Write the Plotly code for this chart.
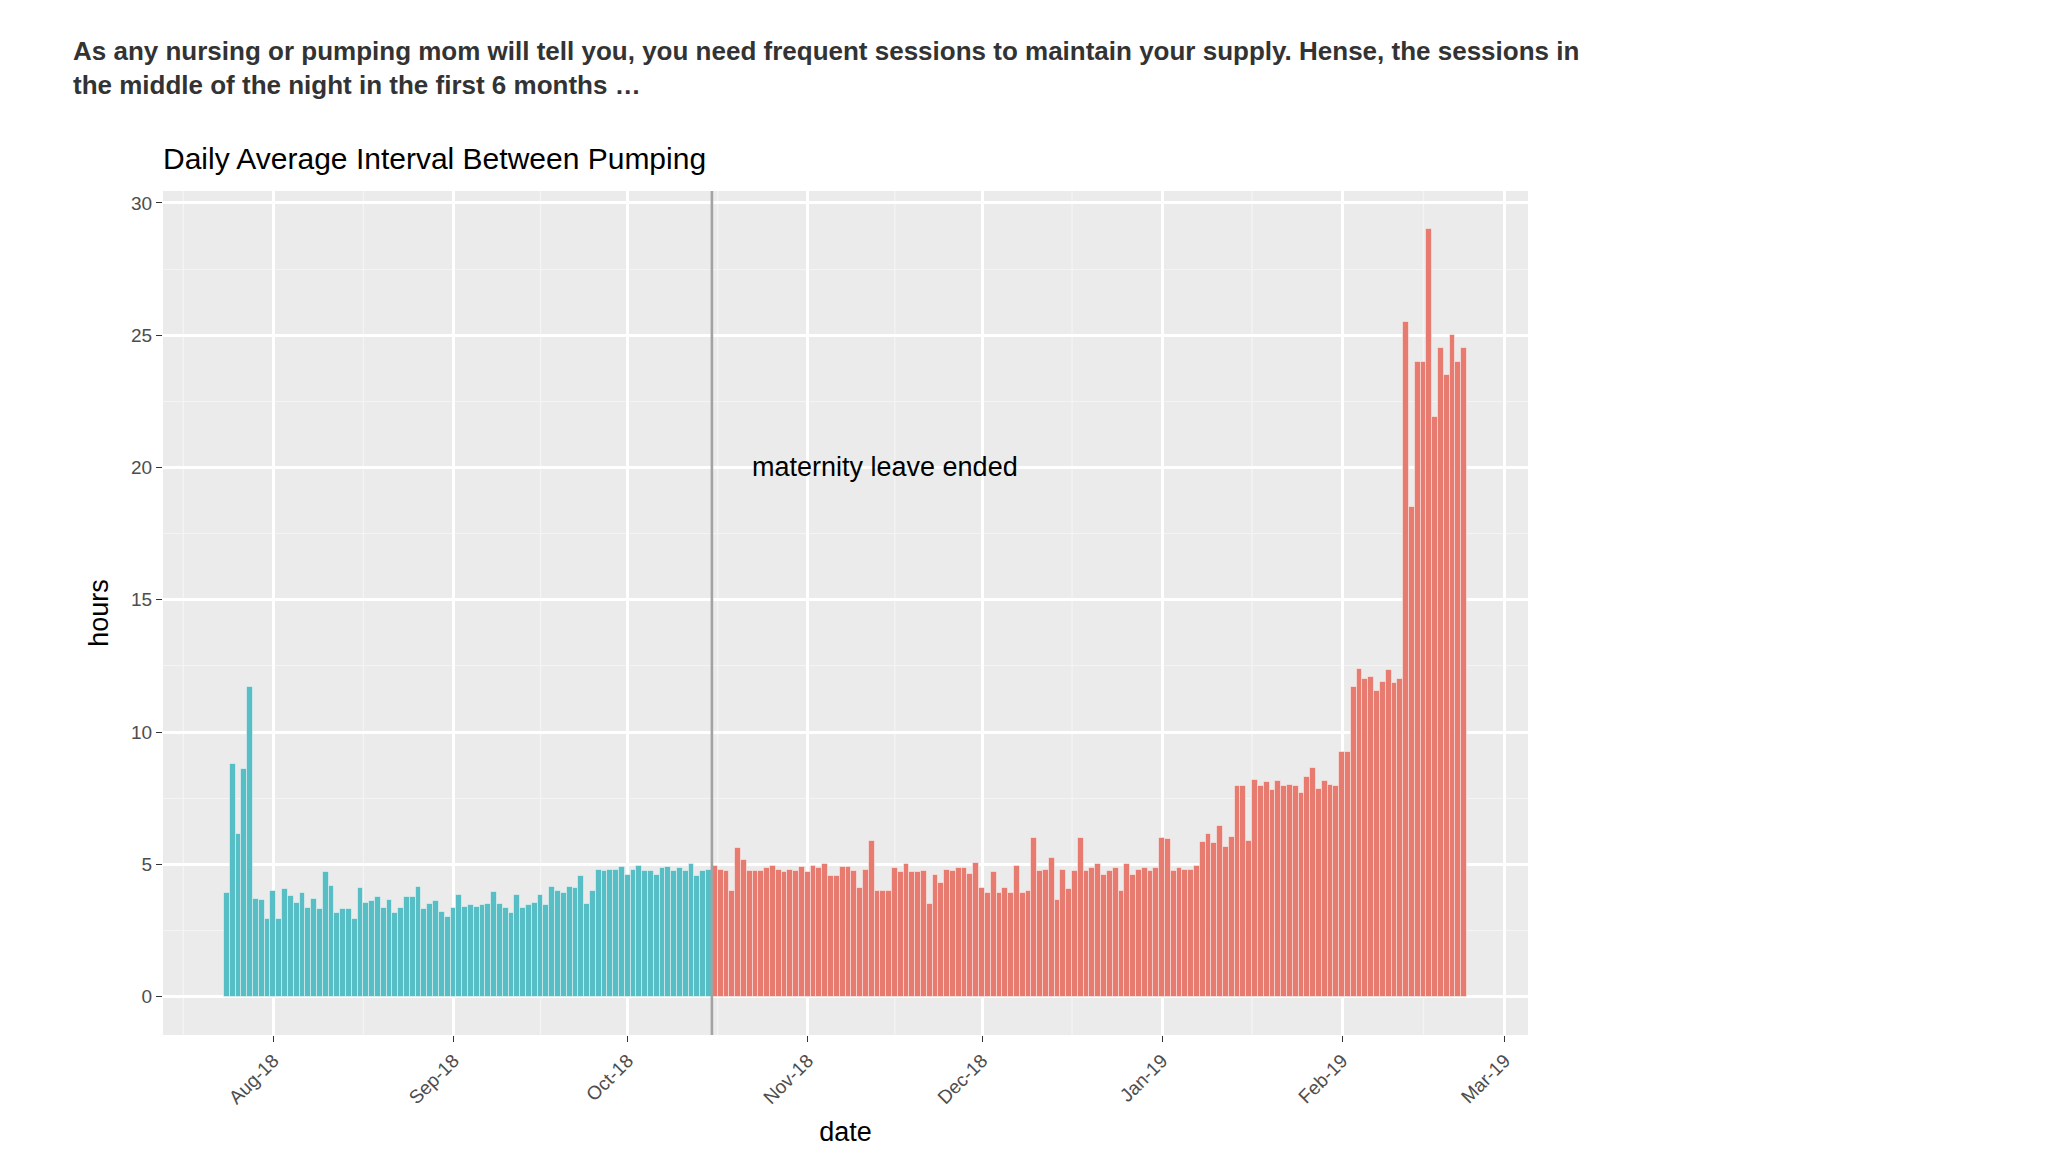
import datetime as dt

import plotly.graph_objects as go

START_DATE = dt.date(2018, 7, 24)
LEAVE_END = "2018-10-15 12:00"

# daily average interval (hours), on maternity leave
leave_hours = [
    3.9, 8.8, 6.15, 8.6, 11.7, 3.7, 3.65, 2.95, 4.0, 2.95, 4.05, 3.8, 3.55, 3.9,
    3.35, 3.7, 3.3, 4.7, 4.2, 3.15, 3.3, 3.3, 2.95, 4.1, 3.55, 3.6, 3.75, 3.35,
    3.65, 3.15, 3.35, 3.75, 3.75, 4.15, 3.3, 3.5, 3.6, 3.2, 3.0, 3.35, 3.85, 3.4,
    3.45, 3.4, 3.45, 3.5, 3.95, 3.5, 3.35, 3.15, 3.85, 3.35, 3.45, 3.55, 3.85,
    3.45, 4.15, 4.0, 3.9, 4.15, 4.1, 4.55, 3.5, 4.0, 4.8, 4.75, 4.8, 4.8, 4.9,
    4.6, 4.8, 4.95, 4.75, 4.75, 4.6, 4.85, 4.9, 4.75, 4.85, 4.75, 5.0, 4.55,
    4.75, 4.8,
]

# daily average interval (hours), back at work
work_hours = [
    4.95, 4.8, 4.75, 4.0, 5.6, 5.15, 4.75, 4.75, 4.75, 4.85, 4.95, 4.8, 4.7, 4.8,
    4.75, 4.9, 4.7, 4.95, 4.85, 5.0, 4.55, 4.55, 4.9, 4.9, 4.75, 4.1, 4.8, 5.9,
    4.0, 4.0, 4.0, 4.85, 4.7, 5.0, 4.7, 4.7, 4.75, 3.5, 4.6, 4.3, 4.8, 4.75,
    4.85, 4.85, 4.65, 5.05, 4.1, 3.9, 4.7, 3.9, 4.1, 3.9, 4.95, 3.9, 4.0, 6.0,
    4.75, 4.8, 5.25, 3.65, 4.8, 4.05, 4.75, 6.0, 4.75, 4.85, 5.0, 4.6, 4.75,
    4.85, 4.0, 5.0, 4.6, 4.8, 4.85, 4.75, 4.85, 6.0, 5.95, 4.75, 4.85, 4.8, 4.8,
    4.95, 5.85, 6.15, 5.8, 6.45, 5.65, 6.05, 7.95, 7.95, 5.9, 8.2, 7.95, 8.1,
    7.8, 8.15, 7.95, 8.0, 7.95, 7.7, 8.3, 8.65, 7.85, 8.15, 8.0, 7.95, 9.25,
    9.25, 11.7, 12.4, 12.0, 12.07, 11.55, 11.9, 12.35, 11.87, 12.0, 25.5, 18.5,
    24.0, 24.0, 29.0, 21.9, 24.5, 23.5, 25.0, 24.0, 24.5,
]

leave_dates = [START_DATE + dt.timedelta(days=i) for i in range(len(leave_hours))]
work_dates = [
    START_DATE + dt.timedelta(days=len(leave_hours) + i) for i in range(len(work_hours))
]

DAY_MS = 86400000
BAR_LINE = dict(color="rgba(255,255,255,0.45)", width=1)

fig = go.Figure()
fig.add_bar(x=leave_dates, y=leave_hours, width=DAY_MS,
            marker=dict(color="#56BEC4", line=BAR_LINE), showlegend=False)
fig.add_bar(x=work_dates, y=work_hours, width=DAY_MS,
            marker=dict(color="#E87B6F", line=BAR_LINE), showlegend=False)

# minor grid lines halfway between month breaks (ggplot style)
month_starts = [dt.date(2018, m, 1) for m in range(7, 13)] + [
    dt.date(2019, m, 1) for m in range(1, 4)
]
for a, b in zip(month_starts[:-1], month_starts[1:]):
    mid = dt.datetime.combine(a, dt.time()) + (b - a) / 2
    fig.add_shape(type="line", x0=mid, x1=mid, y0=0, y1=1, yref="paper",
                  line=dict(color="#F4F4F4", width=1.3), layer="below")

fig.add_shape(type="line", x0=LEAVE_END, x1=LEAVE_END, y0=0, y1=1, yref="paper",
              line=dict(color="#A3A3A3", width=2.6))

fig.add_annotation(x="2018-10-22", y=20, text="maternity leave ended",
                   showarrow=False, xanchor="left",
                   font=dict(size=27, color="black"))

fig.add_annotation(
    x=(63 - 155) / 1365, y=1 + (183 - 26) / 844, xref="paper", yref="paper",
    xanchor="left", yanchor="top",
    text="<b>As any nursing or pumping mom will tell you, you need frequent sessions to maintain your supply. Hense, the sessions in</b><br>"
         "<b>the middle of the night in the first 6 months …</b>",
    showarrow=False, align="left", font=dict(size=26, color="#333333"),
)

fig.update_layout(
    width=2068, height=1168,
    margin=dict(l=155, r=548, t=183, b=141),
    paper_bgcolor="white", plot_bgcolor="#EBEBEB",
    font=dict(family="Liberation Sans, Arial, sans-serif", color="#4D4D4D"),
    bargap=0,
    title=dict(text="Daily Average Interval Between Pumping", x=155 / 2068,
               xanchor="left", y=1 - 150 / 1168, yanchor="middle",
               font=dict(size=30, color="black")),
)

fig.update_xaxes(
    range=["2018-07-13", "2019-03-05"], type="date",
    dtick="M1", tick0="2018-08-01", tickformat="%b-%y", tickangle=-45,
    showgrid=True, gridcolor="white", gridwidth=2.6,
    ticks="outside", ticklen=6, tickcolor="#333333",
    tickfont=dict(size=19, color="#4D4D4D"),
    title=dict(text="date", font=dict(size=27, color="black"), standoff=14),
    zeroline=False,
)
fig.update_yaxes(
    range=[-1.45, 30.45], dtick=5, tick0=0,
    showgrid=True, gridcolor="white", gridwidth=2.6,
    minor=dict(dtick=2.5, showgrid=True, gridcolor="#F4F4F4", gridwidth=1.3),
    ticks="outside", ticklen=6, tickcolor="#333333",
    tickfont=dict(size=19, color="#4D4D4D"),
    title=dict(text="hours", font=dict(size=27, color="black"), standoff=14),
    zeroline=False,
)

fig.write_html("out.html")
